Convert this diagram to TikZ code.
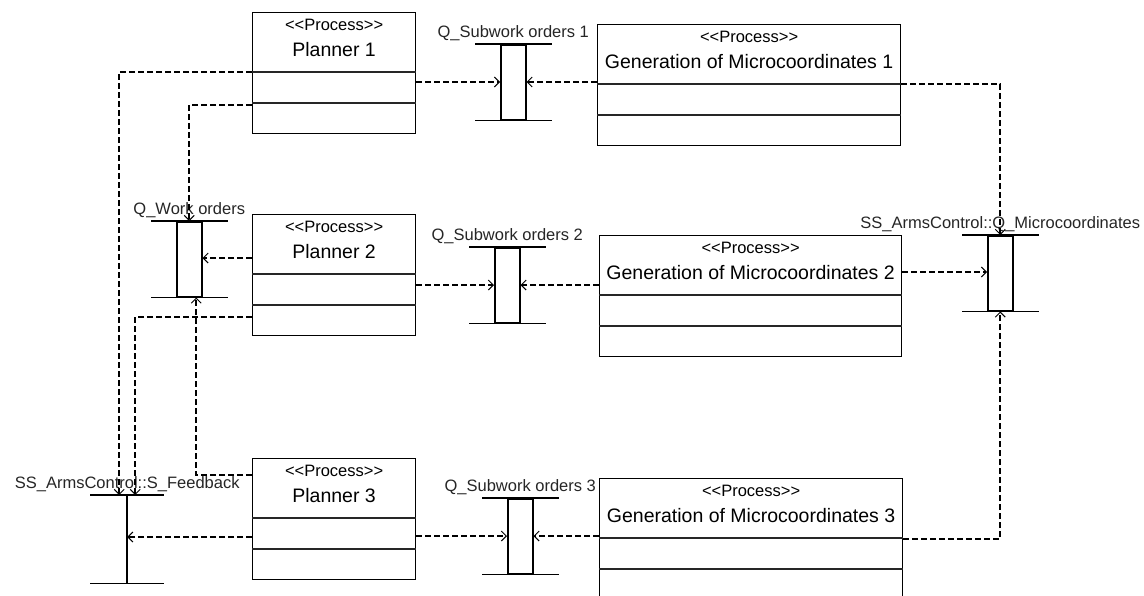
\documentclass[tikz,border=0pt]{standalone}
\usepackage{fontspec}
\setmainfont{Liberation Sans}
\usetikzlibrary{arrows.meta,calc}

% stereotype text, kept as separate angle brackets
\newcommand\stereotype[1]{<\kern0pt<#1>\kern0pt>}
% process box: name, x, y (top left), width, title
\newcommand\procbox[5]{%
  \node[pbox, minimum width=#4pt] (#1) at (#2,#3) {};
  \draw[divider] ($(#1.north west)+(0,60)$) -- ($(#1.north east)+(0,60)$);
  \draw[divider] ($(#1.north west)+(0,91)$) -- ($(#1.north east)+(0,91)$);
  \node[stereo] (#1-st) at ($(#1.north)+(0,12.5)$) {\stereotype{Process}};
  \node[ptitle] (#1-tt) at ($(#1.north)+(0,37.5)$) {#5};
}
% message queue: name, inner left x, top y, label
\newcommand\msgqueue[4]{%
  \node[qrect] (#1) at (#2,#3) {};
  \draw[qline] ($(#1.north west)+(-25,0)$) -- ($(#1.north east)+(25,0)$);
  \draw[qline] ($(#1.south west)+(-25,0)$) -- ($(#1.south east)+(25,0)$);
  \node[qlabel] (#1-lbl) at ($(#1.north)+(0,-7)$) {#4};
}

\begin{document}
\begin{tikzpicture}[x=1pt,y=-1pt,
  pbox/.style={draw, line width=1.2pt, rectangle, anchor=north west,
    inner sep=0pt, minimum height=121pt},
  divider/.style={line width=1.2pt, draw=black!85},
  stereo/.style={font=\fontsize{16.5}{18}\selectfont, inner sep=0pt},
  ptitle/.style={font=\fontsize{19.5}{22}\selectfont, inner sep=0pt},
  qrect/.style={draw, line width=1.5pt, rectangle, anchor=north west,
    inner sep=0pt, minimum width=25pt, minimum height=75pt},
  qline/.style={line width=1.5pt},
  qlabel/.style={font=\fontsize{16.5}{18}\selectfont, anchor=base,
    inner sep=0pt, text=black!85},
  flow/.style={line width=1.6pt, dash pattern=on 6pt off 3pt,
    -{Straight Barb[length=5pt, width=10pt, line width=1pt]}}
]
\useasboundingbox (0,0) rectangle (1144,595);
\fill[white] (0,0) rectangle (1144,595);
\clip (0,0) rectangle (1144,595);

% planners
\procbox{p1}{252}{12}{163}{Planner 1}
\procbox{p2}{252}{214}{163}{Planner 2}
\procbox{p3}{252}{458}{163}{Planner 3}

% generators of microcoordinates
\procbox{g1}{597}{24}{303}{Generation of Microcoordinates 1}
\procbox{g2}{599}{235}{302}{Generation of Microcoordinates 2}
\procbox{g3}{599}{478}{303}{Generation of Microcoordinates 3}

% queues
\msgqueue{q1}{500}{44}{Q\_Subwork orders 1}
\msgqueue{q2}{494}{247}{Q\_Subwork orders 2}
\msgqueue{q3}{507}{498}{Q\_Subwork orders 3}
\msgqueue{qw}{176}{221}{Q\_Work orders}
\msgqueue{qm}{987}{235}{SS\_ArmsControl::Q\_Microcoordinates}

% feedback signal
\node[rectangle, inner sep=0pt, minimum width=74pt, minimum height=88pt,
  anchor=north west] (sf) at (90,495) {};
\draw[qline] (sf.north west) -- (sf.north east);
\draw[qline] (sf.south west) -- (sf.south east);
\draw[qline] (sf.north) -- (sf.south);
\node[qlabel] (sf-lbl) at ($(sf.north)+(0,-7)$) {SS\_ArmsControl::S\_Feedback};

% planners to subwork queues
\draw[flow] ($(p1.north east)+(0,70)$) coordinate (a1) -- (a1 -| q1.west);
\draw[flow] ($(p2.north east)+(0,71)$) coordinate (a2) -- (a2 -| q2.west);
\draw[flow] ($(p3.north east)+(0,78)$) coordinate (a3) -- (a3 -| q3.west);

% generators to subwork queues
\draw[flow] ($(g1.north west)+(0,58)$) coordinate (b1) -- (b1 -| q1.east);
\draw[flow] ($(g2.north west)+(0,50)$) coordinate (b2) -- (b2 -| q2.east);
\draw[flow] ($(g3.north west)+(0,58)$) coordinate (b3) -- (b3 -| q3.east);

% planners to work order queue
\draw[flow] ($(p2.north west)+(0,44)$) coordinate (c2) -- (c2 -| qw.east);
\draw[flow] ($(p1.north west)+(0,93)$) -| (qw.north);
\draw[flow] ($(p3.north west)+(0,17)$) -| ($(qw.south)+(7,0)$);

% planners to feedback signal
\draw[flow] ($(p1.north west)+(0,60)$) -| ($(sf.north)+(-8,0)$);
\draw[flow] ($(p2.north west)+(0,103)$) -| ($(sf.north)+(8,0)$);
\draw[flow] ($(p3.north west)+(0,79)$) coordinate (d3) -- (d3 -| sf.center);

% generators to microcoordinate queue
\draw[flow] ($(g1.north east)+(0,60)$) -| (qm.north);
\draw[flow] ($(g2.north east)+(0,37)$) coordinate (e2) -- (e2 -| qm.west);
\draw[flow] ($(g3.north east)+(0,61)$) -| (qm.south);
\end{tikzpicture}
\end{document}
